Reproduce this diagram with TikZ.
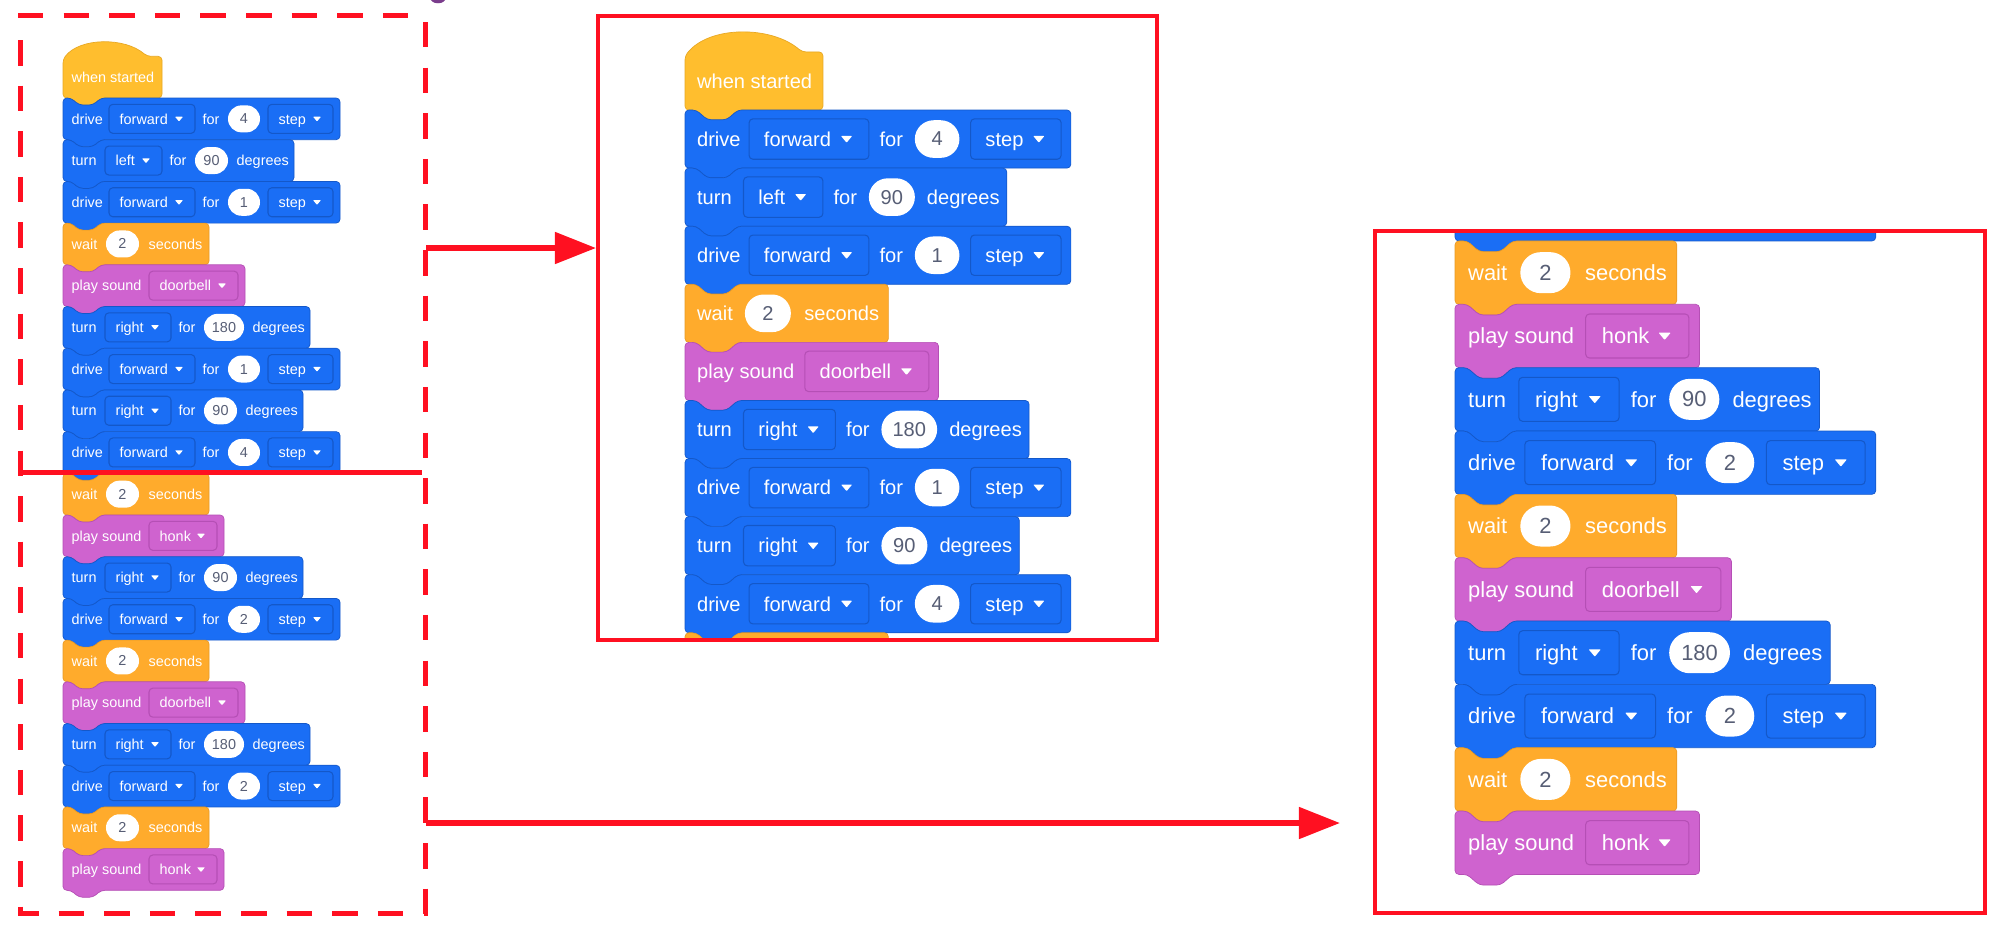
\documentclass[tikz,border=0pt]{standalone}
\usepackage{fontspec}
\setmainfont{Liberation Sans}
\usetikzlibrary{arrows.meta,fit,shapes.misc}
\definecolor{vblue}{HTML}{1A6EF5}
\definecolor{vblueD}{HTML}{1458C9}
\definecolor{vorange}{HTML}{FFAB2C}
\definecolor{vorangeD}{HTML}{E89A26}
\definecolor{vyellow}{HTML}{FFBE2E}
\definecolor{vyellowD}{HTML}{E8A823}
\definecolor{vpurple}{HTML}{CF63CF}
\definecolor{vpurpleD}{HTML}{B54FB5}
\definecolor{vgray}{HTML}{575E75}
\definecolor{vred}{HTML}{FF1021}
\definecolor{vplum}{HTML}{7A3C8C}

\tikzset{
  blocktext/.style={text=white, font=\fontsize{4.1}{5}\selectfont, inner sep=0pt, anchor=base west},
  ovalnode/.style={rounded rectangle, fill=white, inner sep=0pt, minimum height=7.68pt,
    text=vgray, font=\fontsize{4.1}{5}\selectfont},
  dashside/.style={draw=vred, line width=1.42pt, dash pattern=on 7.25pt off 5.72pt},
  redbox/.style={draw=vred, line width=1.14pt, inner sep=0pt},
  redarrow/.style={draw=vred, line width=1.5pt, -{Triangle[length=11.7pt, width=8.8pt]}},
}

\newif\ifVtxt
\newif\ifVbody
% ranges of rows: bodies from \VBf to \VBtTo, texts from \VTf to \VTt
\newcommand\VSetRow[1]{%
  \pgfmathsetmacro\VT{(#1-1)*41.7}%
  \pgfmathsetmacro\VTn{\VT+7}%
  \pgfmathsetmacro\VBt{\VT+41.7}%
  \pgfmathsetmacro\VBn{\VT+48.7}%
  \pgfmathsetmacro\VC{\VT+20.85}%
  \pgfmathsetmacro\VB{\VT+26.05}%
  \pgfmathsetmacro\VFt{\VC-14.5}%
  \pgfmathsetmacro\VFb{\VC+14.5}%
  \def\VR{#1}%
  \Vtxtfalse\Vbodyfalse
  \ifnum#1<\VTf\relax\else\ifnum#1>\VTt\relax\else\Vtxttrue\fi\fi
  \ifnum#1<\VBf\relax\else\ifnum#1>\VBtTo\relax\else\Vbodytrue\fi\fi
}
\newcommand\VBody[2]{%
  \ifVbody
  \filldraw[fill=#1, draw=#1D, line width=0.2pt, rounded corners=1.1pt]
    (0,\VT) -- (8,\VT) -- (16,\VTn) -- (30,\VTn) -- (38,\VT) -- (#2,\VT)
    -- (#2,\VBt) -- (38,\VBt) -- (30,\VBn) -- (16,\VBn) -- (8,\VBt) -- (0,\VBt) -- cycle;
  \fi
}
\newcommand\VLbl[3]{\ifVtxt\node[blocktext] (\VP r\VR#1) at (#2,\VB) {#3};\fi}
\newcommand\VDrop[5]{%
  \ifVtxt
  \filldraw[fill=#5, draw=#5D, line width=0.3pt, rounded corners=1.1pt] (#2,\VFt) rectangle (#3,\VFb);
  \pgfmathsetmacro\VDx{#2+10}%
  \node[blocktext] (\VP r\VR#1) at (\VDx,\VB) {#4};
  \fill[white, rounded corners=0.2pt] ({#3-20},{\VC-2.2}) -- ({#3-12},{\VC-2.2}) -- ({#3-16},{\VC+2.6}) -- cycle;
  \fi
}
\newcommand\VOval[4]{%
  \ifVtxt
  \pgfmathsetmacro\VOw{(#3-#2)*0.28453}%
  \pgfmathsetmacro\VOx{(#2+#3)/2}%
  \node[ovalnode, minimum width=\VOw pt] (\VP r\VR#1) at (\VOx,\VC) {#4};
  \fi
}
\newcommand\VDriveRow[2]{%
  \VSetRow{#1}\VBody{vblue}{277}%
  \VLbl{a}{8}{drive}%
  \VDrop{b}{46}{132}{forward}{vblue}%
  \VLbl{c}{139}{for}%
  \VOval{d}{165}{197}{#2}%
  \VDrop{e}{205}{270}{step}{vblue}%
}
\newcommand\VTurnRow[5]{%
  \VSetRow{#1}\pgfmathsetmacro\VWid{#5+66}\VBody{vblue}{\VWid}%
  \VLbl{a}{8}{turn}%
  \VDrop{b}{42}{#3}{#2}{vblue}%
  \pgfmathsetmacro\VXf{#3+7}\VLbl{c}{\VXf}{for}%
  \pgfmathsetmacro\VXo{#3+33}\VOval{d}{\VXo}{#5}{#4}%
  \pgfmathsetmacro\VXg{#5+8}\VLbl{e}{\VXg}{degrees}%
}
\newcommand\VWaitRow[1]{%
  \VSetRow{#1}\VBody{vorange}{146}%
  \VLbl{a}{8}{wait}%
  \VOval{b}{43}{76}{2}%
  \VLbl{c}{85}{seconds}%
}
\newcommand\VPlayRow[3]{%
  \VSetRow{#1}\pgfmathsetmacro\VWid{#3+7}\VBody{vpurple}{\VWid}%
  \VLbl{a}{8}{play sound}%
  \VDrop{b}{86}{#3}{#2}{vpurple}%
}
\newcommand\VStack{%
  \VSetRow{0}%
  \ifVbody
  \filldraw[fill=vyellow, draw=vyellowD, line width=0.2pt, rounded corners=1.1pt]
    (0,{\VT+3}) .. controls (17,{\VT-19}) and (62,{\VT-19}) .. (84,\VT) -- (99,\VT) -- (99,\VBt)
    -- (38,\VBt) -- (30,\VBn) -- (16,\VBn) -- (8,\VBt) -- (0,\VBt) -- cycle;
  \fi
  \VLbl{a}{8}{when started}%
  \VDriveRow{1}{4}%
  \VTurnRow{2}{left}{99}{90}{165}%
  \VDriveRow{3}{1}%
  \VWaitRow{4}%
  \VPlayRow{5}{doorbell}{175}%
  \VTurnRow{6}{right}{108}{180}{181}%
  \VDriveRow{7}{1}%
  \VTurnRow{8}{right}{108}{90}{174}%
  \VDriveRow{9}{4}%
  \VWaitRow{10}%
  \VPlayRow{11}{honk}{154}%
  \VTurnRow{12}{right}{108}{90}{174}%
  \VDriveRow{13}{2}%
  \VWaitRow{14}%
  \VPlayRow{15}{doorbell}{175}%
  \VTurnRow{16}{right}{108}{180}{181}%
  \VDriveRow{17}{2}%
  \VWaitRow{18}%
  \VPlayRow{19}{honk}{154}%
}

\begin{document}
\begin{tikzpicture}[x=0.01cm, y=-0.01cm]
\useasboundingbox (0,0) rectangle (2000,933);
\fill[white] (0,0) rectangle (2000,933);

% cut-off fragment at top
\fill[vplum] (438,-2) ellipse [x radius=2.2pt, y radius=1.5pt];

% left panel: full program
\begin{scope}[shift={(63,98)}]
  \def\VP{L}\def\VBf{0}\def\VBtTo{19}\def\VTf{0}\def\VTt{19}\VStack
\end{scope}

% middle panel: magnified first part
\begin{scope}
  \clip (598,16) rectangle (1157,640);
  \begin{scope}[shift={(685,110)}, scale=1.393, transform shape]
    \def\VP{M}\def\VBf{0}\def\VBtTo{10}\def\VTf{0}\def\VTt{9}\VStack
  \end{scope}
\end{scope}

% right panel: magnified second part
\begin{scope}
  \clip (1375,231) rectangle (1985,912.5);
  \begin{scope}[shift={(1455,-329.1)}, scale=1.519, transform shape]
    \def\VP{R}\def\VBf{9}\def\VBtTo{19}\def\VTf{10}\def\VTt{19}\VStack
  \end{scope}
\end{scope}

% left dashed box
\coordinate (Lnw) at (20.5,15.5);
\coordinate (Lse) at (425.5,913);
\node[fit=(Lnw)(Lse), inner sep=0pt] (leftbox) {};
\draw[dashside] (18,15.5) -- (428,15.5);
\draw[dashside] (425.5,22) -- (425.5,915.5);
\draw[dashside] (20.5,40) -- (20.5,915.5);
\draw[dashside, dash phase=1.42pt] (18,913) -- (428,913);
\draw[draw=vred, line width=1.42pt] (18,472.5) -- (422,472.5);

% red frames
\coordinate (Mnw) at (598,16);
\coordinate (Mse) at (1157,640);
\node[fit=(Mnw)(Mse), redbox] (midbox) {};
\coordinate (Rnw) at (1375,231);
\coordinate (Rse) at (1985,912.5);
\node[fit=(Rnw)(Rse), redbox] (rightbox) {};

% arrows
\coordinate (arrA) at (425.5,248);
\draw[redarrow] (leftbox.east |- arrA) -- (midbox.west |- arrA);
\coordinate (arrBend) at (1340,823);
\draw[redarrow] (leftbox.east |- arrBend) -- (arrBend);
\end{tikzpicture}
\end{document}
